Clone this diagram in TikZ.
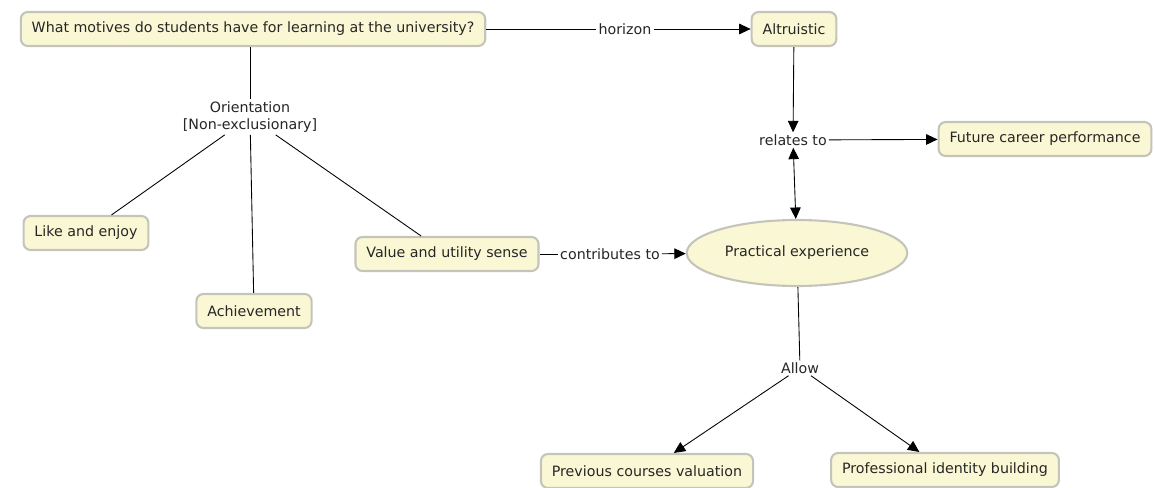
\documentclass[tikz,border=0pt]{standalone}
\usepackage{fontspec}
\setmainfont{DejaVu Sans}
\usetikzlibrary{shapes}
\usetikzlibrary{arrows.meta}
\definecolor{conceptfill}{RGB}{250,248,212}
\definecolor{conceptdraw}{RGB}{196,196,186}
\tikzset{
	mapnode/.style = {
		align=center,
		font=\fontsize{8.1}{10}\selectfont,
		text=black!85
	},
	node_concept/.style = {
		mapnode,
		rectangle,
		rounded corners=4pt,
		draw=conceptdraw,
		fill=conceptfill,
		line width=1.2pt,
		inner xsep=6.2pt,
		minimum height=0.68cm
	},
	node_ellipse/.style = {
		mapnode,
		ellipse,
		draw=conceptdraw,
		fill=conceptfill,
		line width=1.2pt,
		minimum width=3.56cm,
		minimum height=1.32cm
	},
	node_link/.style = {
		mapnode,
		fill=white,
		inner sep=1pt
	},
}

\begin{document}
\begin{tikzpicture}[->,>={Triangle[length=6.5pt,width=6pt]},line width=0.5pt]
\useasboundingbox (0,0) rectangle (23.1,-9.76);
\node [node_concept] (question) at (5.06,-0.58) {What motives do students have for learning at the university?};
\node [node_concept] (altruistic) at (15.88,-0.58) {Altruistic};
\node [node_link] (horizon) at (12.5,-0.58) {horizon};
\node [node_link] (relates) at (15.86,-2.8) {relates to};
\node [node_concept] (future) at (20.9,-2.78) {Future career performance};
\node [node_ellipse] (practical) at (15.94,-5.06) {Practical experience};
\node [node_concept] (value) at (8.94,-5.08) {Value and utility sense};
\node [node_link] (contributes) at (12.2,-5.08) {contributes to};
\node [node_link] (orientation) at (5.0,-2.34) {Orientation\\{}[Non-exclusionary]};
\node [node_concept] (like) at (1.72,-4.66) {Like and enjoy};
\node [node_concept] (achievement) at (5.08,-6.22) {Achievement};
\node [node_link] (allow) at (16.0,-7.36) {Allow};
\node [node_concept] (previous) at (12.94,-9.42) {Previous courses valuation};
\node [node_concept] (professional) at (18.9,-9.4) {Professional identity building};

% question to altruistic
\draw [-] (question) -- (horizon);
\draw (horizon) -- (altruistic);
\draw (altruistic) -- (relates);
\draw (relates) -- (future);
\draw [<->] (relates) -- (practical);
% orientation
\draw [-] (orientation.north |- question.south) -- (orientation);
\draw [-] (orientation) -- (like);
\draw [-] (orientation) -- (achievement);
\draw [-] (orientation) -- (value);
\draw [-] (value) -- (contributes);
\draw (contributes) -- (practical);
% allow
\draw [-] (practical) -- (allow);
\draw (allow) -- (previous);
\draw (allow) -- (professional);
\end{tikzpicture}
\end{document}
